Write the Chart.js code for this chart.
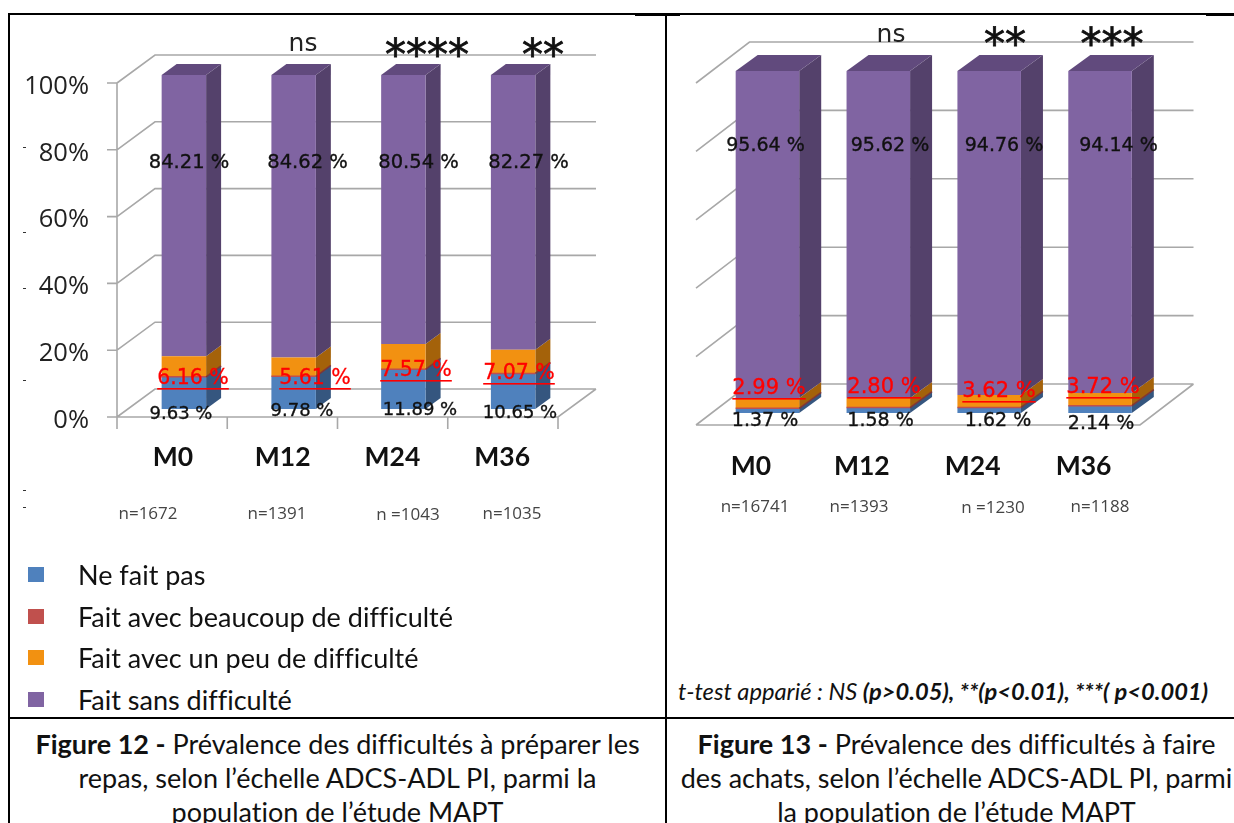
<!DOCTYPE html>
<html lang="fr"><head><meta charset="utf-8">
<script src="https://cdn.jsdelivr.net/npm/chart.js@4"></script>
<style>
html,body{margin:0;padding:0;background:#fff;width:1234px;height:823px;overflow:hidden}
canvas{position:absolute;filter:blur(.35px)}
.ln{position:absolute;background:#000}
.t{position:absolute;white-space:nowrap;color:#111;font-family:Lato,sans-serif;font-variant-ligatures:none}
.cap{font-size:27px;text-align:center;line-height:34px}
.sw{position:absolute;width:16px;height:15px;filter:blur(.5px)}
.spk{position:absolute;background:#333;width:3px;height:1px}
</style></head><body>
<canvas id="left" style="left:0;top:0"></canvas>
<canvas id="right" style="left:667px;top:0"></canvas>
<div class="ln" style="left:8px;top:13px;width:1226px;height:1.5px"></div>
<div class="ln" style="left:635px;top:14px;width:45px;height:2px"></div>
<div class="ln" style="left:1206px;top:14px;width:28px;height:2px"></div>
<div class="ln" style="left:8px;top:13px;width:2px;height:810px"></div>
<div class="ln" style="left:665px;top:14px;width:2px;height:809px"></div>
<div class="ln" style="left:8px;top:717px;width:1226px;height:2px"></div>
<div id="legend"></div>
<div class="t" style="left:678px;top:677px;font-size:23.7px;font-style:italic">t-test apparié : NS <b>(p&gt;0.05), **(p&lt;0.01), ***( p&lt;0.001)</b></div>
<div class="t cap" style="left:10px;width:655px;top:727px"><b>Figure 12 -</b> Prévalence des difficultés à préparer les<br>repas, selon l’échelle ADCS-ADL PI, parmi la<br>population de l’étude MAPT</div>
<div class="t cap" style="left:670px;width:573px;top:727px"><b>Figure 13 -</b> Prévalence des difficultés à faire<br>des achats, selon l’échelle ADCS-ADL PI, parmi<br>la population de l’étude MAPT</div>
<script>
const categories = ['M0','M12','M24','M36'];
const seriesNames = ['Ne fait pas','Fait avec beaucoup de difficulté','Fait avec un peu de difficulté','Fait sans difficulté'];
const yTicks = [0,20,40,60,80,100];

const fig12Blue = [9.63,9.78,11.89,10.65];
const fig12Red = [0,0,0,0];
const fig12Orange = [6.16,5.61,7.57,7.07];
const fig12Purple = [84.21,84.62,80.54,82.27];
const fig12N = ['n=1672','n=1391','n =1043','n=1035'];
const fig12Sig = ['','ns','****','**'];

const fig13Blue = [1.37,1.58,1.62,2.14];
const fig13Red = [0,0,0,0];
const fig13Orange = [2.99,2.80,3.62,3.72];
const fig13Purple = [95.64,95.62,94.76,94.14];
const fig13N = ['n=16741','n=1393','n =1230','n=1188'];
const fig13Sig = ['','ns','**','***'];

const front = ['#4F81BD','#C0504D','#F29111','#8064A2'];
const side = ['#35567F','#823634','#A4620A','#54416B'];
const topFace = '#614A7D';
const GRID = '#A8A8A8';

const fmt = v => v.toFixed(2) + ' %';

function stacked(b,r,o,p){
  return [b,r,o,p].map((d,i)=>({label:seriesNames[i],data:d,backgroundColor:front[i],borderWidth:0,stack:'s'}));
}

function boldText(g,s,x,y,w){ g.fillText(s,x,y); g.lineWidth=w; g.strokeStyle=g.fillStyle; g.strokeText(s,x,y); }

function text3d(L){ return {
  id:'scene',
  beforeDatasetsDraw(c){
    const g=c.ctx,y=c.scales.y,a=c.chartArea;
    const fl=a.left+L.wallL, fr=a.right+L.wallR;
    g.save();g.strokeStyle=GRID;g.lineWidth=1.6;g.beginPath();
    yTicks.forEach(v=>{
      const p=y.getPixelForValue(v);
      const yf=p+L.frontDy,yb=p+L.backDy;
      g.moveTo(fl,yf);g.lineTo(fl+L.depthX,yb);g.lineTo(fr+L.depthX,yb);
      if(L.yAxis){g.moveTo(fl-10,yf);g.lineTo(fl,yf);}
    });
    const p0=y.getPixelForValue(0)+L.frontDy;
    g.moveTo(fl,p0);g.lineTo(fr,p0);g.lineTo(fr+L.depthX,y.getPixelForValue(0)+L.backDy);
    if(L.yAxis){
      g.moveTo(fl,y.getPixelForValue(100)+L.frontDy);g.lineTo(fl,p0+12);
      for(let i=1;i<=categories.length;i++){const x=fl+i*(fr-fl)/categories.length;g.moveTo(x,p0);g.lineTo(x,p0+12);}
    }
    g.stroke();
    // side and top faces of each bar
    c.data.datasets.forEach((ds,i)=>{
      c.getDatasetMeta(i).data.forEach(el=>{
        const xr=el.x+el.width/2,xl=el.x-el.width/2;
        g.fillStyle=side[i];g.beginPath();
        g.moveTo(xr,el.y);g.lineTo(xr+L.dx,el.y-L.dy);g.lineTo(xr+L.dx,el.base-L.dy);g.lineTo(xr,el.base);g.closePath();g.fill();
        if(i===3){
          g.fillStyle=topFace;g.beginPath();
          g.moveTo(xl,el.y);g.lineTo(xl+L.dx,el.y-L.dy);g.lineTo(xr+L.dx,el.y-L.dy);g.lineTo(xr,el.y);g.closePath();g.fill();
        }
      });
    });
    g.restore();
  },
  afterDatasetsDraw(c){
    const g=c.ctx,d=c.data.datasets;
    g.save();
    // the zero-valued red series still shows as a hairline, as in the original
    c.getDatasetMeta(1).data.forEach(el=>{
      const xr=el.x+el.width/2,xl=el.x-el.width/2;
      g.strokeStyle=front[1];g.lineWidth=1.5;g.beginPath();
      g.moveTo(xl,el.y);g.lineTo(xr,el.y);g.stroke();
      g.strokeStyle=side[1];g.beginPath();
      g.moveTo(xr,el.y);g.lineTo(xr+L.dx,el.y-L.dy);g.stroke();
    });
    g.textAlign='center';g.textBaseline='middle';
    categories.forEach((_,i)=>{
      g.fillStyle='#111';g.font=L.blackFont;
      boldText(g,fmt(d[3].data[i]),L.purpleX[i],L.purpleY,.35);
      g.font=L.blueFont;
      boldText(g,fmt(d[0].data[i]),L.blueX[i],L.blueY[i],.35);
      g.fillStyle='#FF0000';g.font=L.redFont;
      const s=fmt(d[2].data[i]);
      boldText(g,s,L.redX[i],L.redY[i],.3);
      const w=g.measureText(s).width;
      g.fillRect(L.redX[i]-w/2,L.redY[i]+L.ulGap,w,1.6);
      g.fillStyle='#444';g.font=L.nFont;
      g.fillText(L.n[i],L.nX[i],L.nY[i]);
      if(L.sig[i]){
        if(L.sig[i]==='ns'){g.fillStyle='#222';g.font=L.nsFont;g.fillText('ns',L.sigX[i],L.nsY);}
        else{
          g.fillStyle='#111';g.font=L.starFont;
          const n=L.sig[i].length;
          for(let k=0;k<n;k++) boldText(g,'*',L.sigX[i]+(k-(n-1)/2)*L.starStep,L.starY,.8);
        }
      }
    });
    g.restore();
  }
};}

function build(id,w,h,pad,ds,L,showY){
  const cv=document.getElementById(id);cv.width=w;cv.height=h;cv.style.width=w+'px';cv.style.height=h+'px';
  new Chart(cv,{type:'bar',
    data:{labels:categories,datasets:ds},
    plugins:[text3d(L)],
    options:{responsive:false,animation:false,
      layout:{padding:pad},
      barPercentage:1,categoryPercentage:L.cat,
      plugins:{legend:{display:false},tooltip:{enabled:false}},
      scales:{
        x:{stacked:true,grid:{display:false},border:{display:false},
          afterFit(s){s.height=L.xH;},
          ticks:{font:{family:'Lato',weight:'bold',size:26.5},color:'#111',labelOffset:L.xOff,padding:L.xPad,maxRotation:0,autoSkip:false}},
        y:{stacked:true,min:0,max:100,display:showY,grid:{display:false},border:{display:false},
          afterFit(s){s.width=pad.yW||0;},
          afterBuildTicks(s){s.ticks=yTicks.map(v=>({value:v}));},
          ticks:{font:{family:'Open Sans',size:25.5},color:'#222',padding:32,labelOffset:11.5,callback:v=>v+'%'}}
      }
    }});
}

build('left',666,560,{left:0,right:98,top:75,bottom:0,yW:129},stacked(fig12Blue,fig12Red,fig12Orange,fig12Purple),{
  cat:.405,wallL:-12,wallR:-10,depthX:38,frontDy:8,backDy:-20,dx:15,dy:11,yAxis:true,
  xH:151,xOff:-11,xPad:25,
  blackFont:'19.5px "DejaVu Sans"',blueFont:'18px "DejaVu Sans"',redFont:'20.5px "DejaVu Sans"',nFont:'17px "Open Sans"',
  nsFont:'25px "DejaVu Sans"',starFont:'42px "DejaVu Sans"',starStep:21,
  purpleX:[189,307.5,418.5,528.5],purpleY:163,
  blueX:[181,302,420,520],blueY:[414,411,410,413],
  redX:[193,315,416,519],redY:[379,379,371,374],ulGap:9,
  n:fig12N,nX:[148,277,408,512],nY:[514,514,515,514],
  sig:fig12Sig,sigX:[0,303,427,543],nsY:44,starY:58
},true);

build('right',567,540,{left:45,right:78.5,top:71,bottom:0},stacked(fig13Blue,fig13Red,fig13Orange,fig13Purple),{
  cat:.573,wallL:-16,wallR:-15.5,depthX:53.5,frontDy:12,backDy:-29,dx:22,dy:16,yAxis:false,
  xH:127,xOff:-16.5,xPad:30,
  blackFont:'19px "DejaVu Sans"',blueFont:'19px "DejaVu Sans"',redFont:'21px "DejaVu Sans"',nFont:'17px "Open Sans"',
  nsFont:'25px "DejaVu Sans"',starFont:'42px "DejaVu Sans"',starStep:21,
  purpleX:[98.5,223,337,451.5],purpleY:146,
  blueX:[98,213.5,331,434],blueY:[421,421,421,424],
  redX:[102,217,332,436],redY:[389,388,392,388],ulGap:9,
  n:fig13N,nX:[88,192,326,433],nY:[507,507,508,507],
  sig:fig13Sig,sigX:[0,224,338,445],nsY:35,starY:47
},false);

// legend
const lg=document.getElementById('legend');
[575,617,658,700].forEach((cy,i)=>{
  const s=document.createElement('div');s.className='sw';s.style.cssText=`left:28px;top:${cy-8}px;background:${front[i]}`;lg.appendChild(s);
  const t=document.createElement('div');t.className='t';t.style.cssText=`left:78px;top:${cy-16}px;font-size:27px;line-height:32px`;t.textContent=seriesNames[i];lg.appendChild(t);
});
[[23,147],[23,232],[23,288],[23,380],[23,490],[23,507]].forEach(([x,y])=>{
  const s=document.createElement('div');s.className='spk';s.style.left=x+'px';s.style.top=y+'px';lg.appendChild(s);
});
</script>
</body></html>
